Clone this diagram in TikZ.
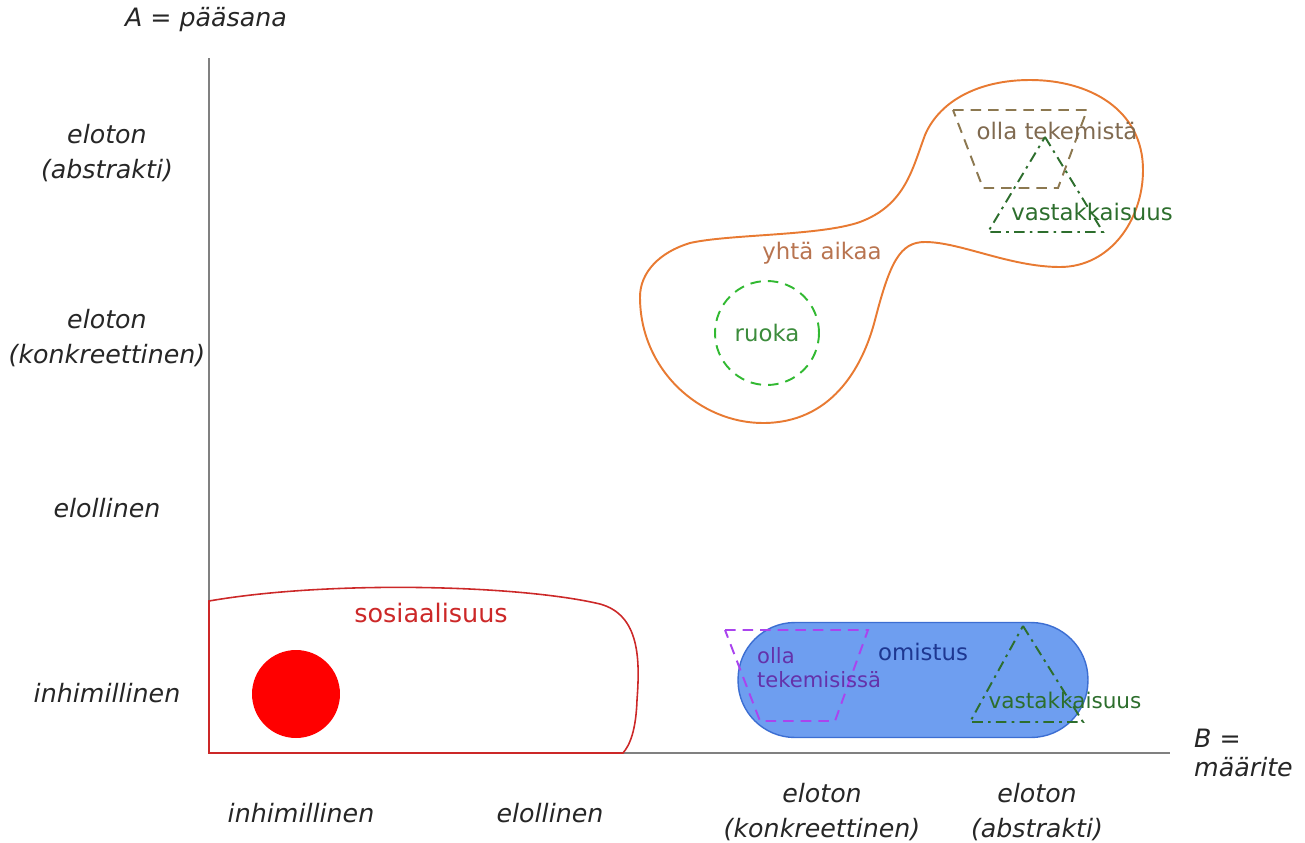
\documentclass[tikz,border=0pt]{standalone}
\usepackage{fontspec}
\setmainfont{DejaVu Sans}
\usepackage{tikz}
\usetikzlibrary{positioning}
\definecolor{axisgray}{RGB}{128,128,128}
\definecolor{sred}{RGB}{204,40,40}
\definecolor{sorange}{RGB}{232,122,50}
\definecolor{aikaa}{RGB}{184,116,80}
\definecolor{ruokagreen}{RGB}{50,185,50}
\definecolor{ruokatext}{RGB}{60,140,60}
\definecolor{tribrown}{RGB}{140,120,80}
\definecolor{tekemista}{RGB}{128,106,80}
\definecolor{vgreen}{RGB}{45,110,45}
\definecolor{ofill}{RGB}{110,158,240}
\definecolor{oline}{RGB}{60,110,210}
\definecolor{otext}{RGB}{30,55,145}
\definecolor{violet}{RGB}{170,68,238}
\definecolor{vtext}{RGB}{100,50,170}
\tikzset{axislabel/.style = {font=\fontsize{14.4}{19.9}\selectfont\itshape,
                             align=center, text=black!85},
         tag/.style = {font=\fontsize{13}{14.5}\selectfont, align=left},
         trapdash/.style = {dash pattern=on 6pt off 4pt, line width=1.1pt},
         tridash/.style = {dash pattern=on 6pt off 3pt on 1.5pt off 3pt, line width=1.1pt}}

\begin{document}
\begin{tikzpicture}[x=0.02cm, y=-0.02cm]
    \useasboundingbox (0, 0) rectangle (1305, 842);
    % axes
    \coordinate (origin) at (209, 753);
    \coordinate (ytop) at (209, 58);
    \coordinate (xend) at (1170, 753);
    \draw [axisgray, line width=1.4pt] (ytop) -- (origin) -- (xend);
    \node [axislabel] (alabel) at (206, 20) {A = pääsana};
    \node [axislabel, align=left, anchor=west,
           font=\fontsize{14.4}{17}\selectfont\itshape] (blabel) at (1188, 753) {B =\\määrite};
    \node [axislabel] (yabs) at (107, 153) {eloton\\(abstrakti)};
    \node [axislabel] (ykon) at (107, 338) {eloton\\(konkreettinen)};
    \node [axislabel] (yelo) at (107, 508) {elollinen};
    \node [axislabel] (yinh) at (107, 693) {inhimillinen};
    \node [axislabel] (xinh) at (301, 813) {inhimillinen};
    \node [axislabel] (xelo) at (550, 813) {elollinen};
    \node [axislabel] (xkon) at (822, 812) {eloton\\(konkreettinen)};
    \node [axislabel] (xabs) at (1037, 812) {eloton\\(abstrakti)};
    % sosiaalisuus
    \draw [sred, line width=0.9pt] (209, 601) .. controls (330, 580) and (520, 585) .. (600, 604)
      .. controls (640, 615) and (640, 660) .. (637, 700)
      .. controls (636, 730) and (630, 745) .. (623, 753) -- (209, 753) -- cycle;
    \node [circle, fill=red, minimum size=1.76cm, inner sep=0pt] (dot) at (296, 694) {};
    \node [tag, text=sred, font=\fontsize{14.5}{16}\selectfont] (sosiaalisuus) at (431, 613) {sosiaalisuus};
    % omistus
    \node [draw=oline, fill=ofill, line width=0.8pt, rounded corners=1.14cm,
           minimum width=7cm, minimum height=2.3cm, inner sep=0pt] (omistusbox) at (913, 680) {};
    \node [tag, text=otext] (omistus) at (923, 652) {omistus};
    \draw [violet, trapdash] (725, 630) -- (868, 630) -- (835, 721) -- (760, 721) -- cycle;
    \node [tag, text=vtext, anchor=north west, font=\fontsize{12}{14}\selectfont] (tekemisissa) at (751, 641) {olla\\tekemisissä};
    \draw [vgreen, tridash] (1023, 626) -- (1083, 722) -- (970, 722) -- cycle;
    \node [tag, text=vgreen, font=\fontsize{12.3}{14}\selectfont] (vastalow) at (1065, 700) {vastakkaisuus};
    % yhtä aikaa
    \draw [sorange, line width=1.1pt] (640, 297) .. controls (640, 370) and (700, 423) .. (763, 423)
      .. controls (830, 423) and (862, 370) .. (875, 320)
      .. controls (890, 262) and (900, 242) .. (925, 242)
      .. controls (960, 242) and (1010, 267) .. (1060, 267)
      .. controls (1110, 267) and (1143, 220) .. (1143, 170)
      .. controls (1143, 110) and (1090, 80) .. (1030, 80)
      .. controls (980, 80) and (940, 100) .. (925, 135)
      .. controls (912, 170) and (905, 205) .. (860, 222)
      .. controls (820, 236) and (730, 234) .. (690, 243)
      .. controls (660, 252) and (640, 272) .. cycle;
    \node [tag, text=aikaa] (aikaa) at (822, 253) {yhtä aikaa};
    \node [circle, draw=ruokagreen, trapdash, minimum size=2.08cm, inner sep=0pt] (ruokaring) at (767, 333) {};
    \node [tag, text=ruokatext] (ruoka) at (767, 333) {ruoka};
    \draw [tribrown, trapdash] (953, 110) -- (1087, 110) -- (1058, 188) -- (983, 188) -- cycle;
    \node [tag, text=tekemista] (tekemista) at (1057, 131) {olla tekemistä};
    \draw [vgreen, tridash] (1045, 137) -- (1103, 232) -- (988, 232) -- cycle;
    \node [tag, text=vgreen] (vastahigh) at (1092, 212) {vastakkaisuus};
\end{tikzpicture}
\end{document}
